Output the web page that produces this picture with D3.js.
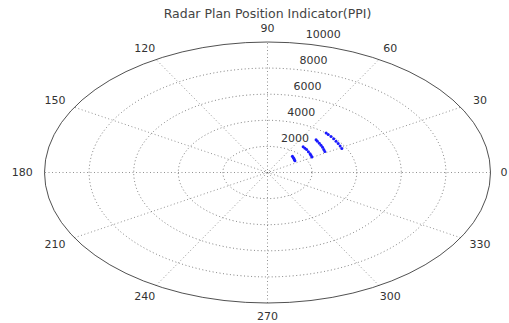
<!DOCTYPE html>
<html>
<head>
<meta charset="utf-8">
<script src="https://cdn.jsdelivr.net/npm/d3@7"></script>
<style>
  html, body { margin: 0; padding: 0; background: #fff; }
  svg { display: block; }
  text { font-family: "DejaVu Sans", sans-serif; }
</style>
</head>
<body>
<svg id="chart" width="509" height="323"></svg>
<script>
// Polar grid ticks
const angleTicks = [0, 30, 60, 90, 120, 150, 180, 210, 240, 270, 300, 330];
const rangeTicks = [2000, 4000, 6000, 8000, 10000];
const spokeAngles = [30, 60, 90, 120, 150, 180];

// Radar echoes: azimuth (deg) and range (m)
const echoAzimuth = [
  36, 39, 42, 45, 48,
  31, 34, 37, 41, 45, 48, 51,
  32, 35, 38, 41, 44, 47, 49,
  29, 32, 35, 38, 41, 44, 47, 49
];
const echoRange = [
  1520, 1550, 1590, 1630, 1670,
  2320, 2350, 2390, 2430, 2480, 2510, 2540,
  3030, 3080, 3130, 3180, 3230, 3280, 3320,
  3810, 3840, 3870, 3900, 3930, 3960, 3990, 4010
];

const title = "Radar Plan Position Indicator(PPI)";
const rmax = 10000;

const svg = d3.select("#chart");
const W = 509;
const cx = 267.5, cy = 172.5, rx = 223, ry = 130.5;

const x = d3.scaleLinear().domain([-rmax, rmax]).range([cx - rx, cx + rx]);
const y = d3.scaleLinear().domain([-rmax, rmax]).range([cy + ry, cy - ry]);
const rad = d => d * Math.PI / 180;

const gridColor = "#262626";

// white disc background
svg.append("ellipse")
  .attr("cx", x(0)).attr("cy", y(0))
  .attr("rx", x(rmax) - x(0)).attr("ry", y(0) - y(rmax))
  .attr("fill", "#fff");

// spokes through the origin
svg.append("g").selectAll("line").data(spokeAngles).join("line")
  .attr("x1", d => x(-rmax * Math.cos(rad(d))))
  .attr("y1", d => y(-rmax * Math.sin(rad(d))))
  .attr("x2", d => x(rmax * Math.cos(rad(d))))
  .attr("y2", d => y(rmax * Math.sin(rad(d))))
  .attr("stroke", gridColor)
  .attr("stroke-width", 1)
  .attr("stroke-dasharray", "1,2.5")
  .attr("stroke-opacity", 0.5);

// range rings: inner dotted, outer solid
svg.append("g").selectAll("ellipse").data(rangeTicks).join("ellipse")
  .attr("cx", x(0)).attr("cy", y(0))
  .attr("rx", d => x(d) - x(0))
  .attr("ry", d => y(0) - y(d))
  .attr("fill", "none")
  .attr("stroke", gridColor)
  .attr("stroke-width", 1)
  .attr("stroke-dasharray", d => d === rmax ? null : "1,2.5")
  .attr("stroke-opacity", d => d === rmax ? 0.8 : 0.6);

// range labels along 82 degrees
const c82 = Math.cos(rad(82)), s82 = Math.sin(rad(82));
const rinc = rangeTicks[0];
svg.append("g").selectAll("text").data(rangeTicks).join("text")
  .attr("x", d => x((d + rinc / 20) * c82))
  .attr("y", d => y((d + rinc / 20) * s82))
  .attr("dy", "-0.35em")
  .attr("font-size", 11)
  .attr("fill", "#333")
  .attr("xml:space", "preserve")
  .text(d => "  " + d);

// azimuth labels (kept inside the page at the right edge)
svg.append("g").selectAll("text").data(angleTicks).join("text")
  .attr("x", d => Math.min(x(1.1 * rmax * Math.cos(rad(d))), W - 5))
  .attr("y", d => y(1.1 * rmax * Math.sin(rad(d))))
  .attr("text-anchor", "middle")
  .attr("dominant-baseline", "central")
  .attr("font-size", 11)
  .attr("fill", "#333")
  .text(d => d);

// echoes
const echoes = echoAzimuth.map((a, i) => ({ a, r: echoRange[i] }));
svg.append("g").selectAll("circle").data(echoes).join("circle")
  .attr("cx", d => x(d.r * Math.cos(rad(d.a))))
  .attr("cy", d => y(d.r * Math.sin(rad(d.a))))
  .attr("r", 1.5)
  .attr("fill", "#1a1aff");

// title
svg.append("text")
  .attr("x", cx).attr("y", 13)
  .attr("text-anchor", "middle")
  .attr("dominant-baseline", "central")
  .attr("font-size", 12.5)
  .attr("fill", "#444")
  .text(title);
</script>
</body>
</html>
